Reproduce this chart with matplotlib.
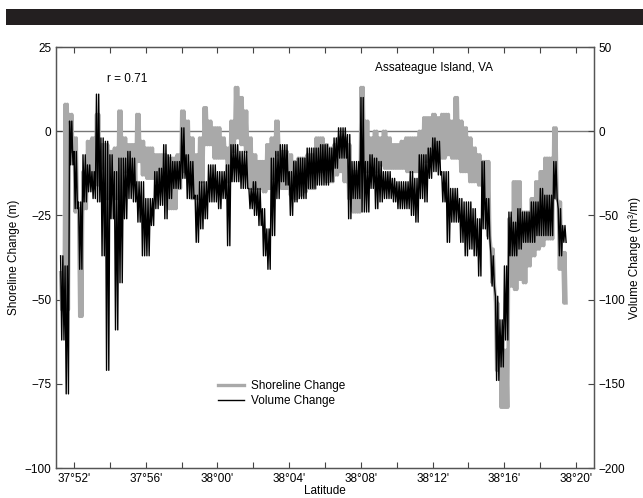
import numpy as np
import matplotlib
matplotlib.use("Agg")
import matplotlib.pyplot as plt
from matplotlib.patches import Rectangle
from matplotlib.ticker import MultipleLocator, FuncFormatter

plt.rcParams['font.family'] = ['Liberation Sans', 'DejaVu Sans']

# latitude bins, in arcminutes north of 37°00' (52 -> 37°52', 60 -> 38°00')
lat_start = 51.35
lat_step = 0.25

# shoreline change (m): highest / lowest value seen in each bin
shore_hi = [-42, 8, 5, -2, -23, -12, -3, -2, 5, -4,
            -4, -6, -5, 6, -2, -4, -4, 5, -3, -5,
            -5, -7, -7, -7, -8, -8, -7, 6, 3, -2,
            -7, -2, 7, 3, 1, 1, -2, -5, 3, 13,
            10, 6, -2, -7, -9, -9, -4, -2, 3, -6,
            -6, -7, -9, -8, -8, -7, -7, -2, -2, -4,
            -5, -4, -2, -2, -4, -12, -12, 13, 3, -2,
            0, -2, 0, -2, -4, -4, -3, -2, -2, -2,
            0, 4, 4, 5, 4, 5, 5, 3, 10, 3,
            1, -2, -5, -7, -9, -9, -35, -51, -61, -65,
            -26, -15, -15, -24, -24, -20, -15, -12, -8, -8,
            1, -21, -36]
shore_lo = [-53, -53, -6, -24, -55, -23, -15, -15, -16, -11,
            -20, -15, -20, -21, -12, -15, -15, -9, -13, -14,
            -14, -15, -15, -15, -23, -23, -17, -12, -12, -20,
            -20, -15, -4, -4, -8, -8, -8, -15, -6, -2,
            -4, -6, -17, -17, -17, -18, -17, -14, -7, -17,
            -17, -19, -20, -19, -18, -17, -17, -12, -12, -15,
            -15, -13, -12, -15, -20, -24, -24, -12, -12, -12,
            -12, -10, -11, -11, -11, -11, -11, -12, -12, -12,
            -12, -9, -8, -7, -8, -8, -7, -8, -8, -12,
            -12, -15, -15, -16, -23, -31, -45, -71, -82, -82,
            -46, -47, -44, -45, -40, -37, -35, -34, -32, -32,
            -20, -41, -51]

# volume change (m3/m): highest / lowest value seen in each bin
vol_hi = [-74, -80, 6, -12, -42, -14, -20, -24, 22, -4,
          -6, -14, -24, -16, -16, -12, -16, -30, -30, -40,
          -40, -24, -22, -8, -14, -18, -18, 2, -14, -18,
          -38, -30, -30, -20, -20, -24, -24, -20, -8, -8,
          -12, -12, -34, -30, -34, -46, -58, -16, -12, -8,
          -8, -24, -18, -16, -16, -10, -10, -10, -8, -8,
          -10, -4, 2, 2, -2, -18, -18, 20, -18, -14,
          -16, -18, -24, -24, -28, -30, -30, -30, -24, -28,
          -14, -14, -10, -4, -6, -24, -24, -34, -34, -40,
          -42, -42, -46, -52, -18, -40, -74, -98, -112, -80,
          -48, -54, -46, -48, -48, -42, -42, -34, -38, -38,
          -18, -46, -56]
vol_lo = [-124, -156, -20, -46, -82, -42, -36, -40, -42, -74,
          -142, -52, -118, -90, -52, -40, -42, -54, -74, -74,
          -56, -46, -44, -52, -40, -34, -34, -28, -40, -40,
          -66, -58, -52, -42, -42, -46, -40, -68, -30, -30,
          -34, -34, -46, -50, -56, -74, -82, -62, -40, -30,
          -32, -50, -42, -40, -40, -34, -34, -32, -32, -32,
          -30, -22, -16, -16, -52, -40, -40, -48, -48, -34,
          -46, -42, -40, -40, -42, -46, -46, -46, -50, -54,
          -40, -42, -28, -24, -26, -42, -66, -54, -54, -66,
          -74, -70, -74, -86, -58, -64, -92, -148, -140, -124,
          -74, -74, -70, -66, -66, -66, -62, -62, -62, -62,
          -40, -74, -66]

r_value = 0.71


def zigzag(hi, lo):
    # two down/up strokes per bin between its highest and lowest value,
    # to look like the dense raw profile data
    lat = lat_start + lat_step * np.arange(len(hi))
    offs = np.array([-3, -1, 1, 3]) * lat_step / 8
    x = (lat[:, None] + offs[None, :]).ravel()
    y = np.column_stack([hi, lo, hi, lo]).ravel()
    return x, y


def lat_label(m, pos):
    m = int(round(m))
    return f"{37 + m // 60}\u00b0{m % 60:02d}'"


fig = plt.figure(figsize=(6.43, 4.98), dpi=100)
fig.add_artist(Rectangle((6 / 643, 1 - 25 / 498), 1, 16 / 498,
                         transform=fig.transFigure, color='#231f20', lw=0))

ax = fig.add_axes([56 / 643, 1 - 468 / 498, 538 / 643, 421 / 498])
ax2 = ax.twinx()

ax.axhline(0, color='#777777', lw=1, zorder=1)

xs, ys = zigzag(shore_hi, shore_lo)
l1, = ax.plot(xs, ys, color='#a9a9a9', lw=2.4, label='Shoreline Change', zorder=2)
xv, yv = zigzag(vol_hi, vol_lo)
l2, = ax2.plot(xv, yv, color='black', lw=1.0, label='Volume Change')

ax.set_xlim(51, 81)
ax.set_ylim(-100, 25)
ax2.set_ylim(-200, 50)
ax.set_yticks([-100, -75, -50, -25, 0, 25])
ax2.set_yticks([-200, -150, -100, -50, 0, 50])
ax.xaxis.set_major_locator(MultipleLocator(4))
ax.xaxis.set_minor_locator(MultipleLocator(2))
ax.xaxis.set_major_formatter(FuncFormatter(lat_label))

ax.tick_params(which='both', direction='in', top=True, length=4, width=0.8,
               labelsize=8.5, color='#444444')
ax2.tick_params(direction='in', length=4, width=0.8, labelsize=8.5, color='#444444')
for a in (ax, ax2):
    for s in a.spines.values():
        s.set_color('#555555')
        s.set_linewidth(0.9)

ax.set_xlabel('Latitude', fontsize=8.5, labelpad=0)
ax.set_ylabel('Shoreline Change (m)', fontsize=8.5, labelpad=3)
ax2.set_ylabel('Volume Change (m\u00b3/m)', fontsize=8.5, labelpad=2)

ax.text(0.095, 0.925, f'r = {r_value}', transform=ax.transAxes, fontsize=8.5,
        va='center')
ax.text(0.593, 0.95, 'Assateague Island, VA', transform=ax.transAxes,
        fontsize=8.5, va='center')

ax2.legend(handles=[l1, l2], loc='upper left', frameon=False, fontsize=8.5,
           bbox_to_anchor=(212 / 643, 1 - 374 / 498),
           bbox_transform=fig.transFigure, handlelength=2.2,
           handletextpad=0.6, labelspacing=0.3, borderpad=0)

fig.savefig('out.png', dpi=100)
